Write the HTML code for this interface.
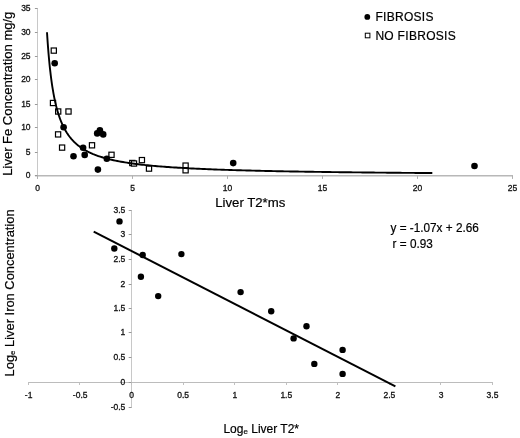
<!DOCTYPE html>
<html><head><meta charset="utf-8"><style>
html,body{margin:0;padding:0;background:#fff;}
body{width:520px;height:438px;overflow:hidden;}
svg{display:block;filter:blur(0.3px);font-family:"Liberation Sans",sans-serif;}
</style></head><body>
<svg width="520" height="438" viewBox="0 0 520 438">
<rect width="520" height="438" fill="#fff"/>
<g stroke="#999" stroke-width="1" fill="none">
<line x1="37.5" y1="8" x2="37.5" y2="179" stroke="#c8c8c8"/>
<line x1="35" y1="175.8" x2="513" y2="175.8" stroke="#b8b8b8" stroke-width="1.5"/>
<line x1="34.9" y1="8.5" x2="37.5" y2="8.5"/>
<line x1="34.9" y1="32.5" x2="37.5" y2="32.5"/>
<line x1="34.9" y1="56.5" x2="37.5" y2="56.5"/>
<line x1="34.9" y1="79.5" x2="37.5" y2="79.5"/>
<line x1="34.9" y1="104.5" x2="37.5" y2="104.5"/>
<line x1="34.9" y1="127.5" x2="37.5" y2="127.5"/>
<line x1="34.9" y1="152.5" x2="37.5" y2="152.5"/>
<line x1="34.9" y1="175.5" x2="37.5" y2="175.5"/>
<line x1="37.5" y1="175.72" x2="37.5" y2="178.92" stroke="#b0b0b0"/>
<line x1="132.5" y1="175.72" x2="132.5" y2="178.92" stroke="#b0b0b0"/>
<line x1="227.5" y1="175.72" x2="227.5" y2="178.92" stroke="#b0b0b0"/>
<line x1="322.5" y1="175.72" x2="322.5" y2="178.92" stroke="#b0b0b0"/>
<line x1="417.5" y1="175.72" x2="417.5" y2="178.92" stroke="#b0b0b0"/>
<line x1="512.5" y1="175.72" x2="512.5" y2="178.92" stroke="#b0b0b0"/>
</g>
<g font-size="8.5" fill="#111" stroke="#111" stroke-width="0.3">
<text x="30.6" y="10.9" text-anchor="end">35</text>
<text x="30.6" y="34.9" text-anchor="end">30</text>
<text x="30.6" y="58.9" text-anchor="end">25</text>
<text x="30.6" y="81.9" text-anchor="end">20</text>
<text x="30.6" y="106.9" text-anchor="end">15</text>
<text x="30.6" y="129.9" text-anchor="end">10</text>
<text x="30.6" y="154.9" text-anchor="end">5</text>
<text x="30.6" y="177.9" text-anchor="end">0</text>
<text x="37.6" y="190.5" text-anchor="middle">0</text>
<text x="132.6" y="190.5" text-anchor="middle">5</text>
<text x="227.6" y="190.5" text-anchor="middle">10</text>
<text x="322.6" y="190.5" text-anchor="middle">15</text>
<text x="417.6" y="190.5" text-anchor="middle">20</text>
<text x="512.6" y="190.5" text-anchor="middle">25</text>
</g>
<rect x="51.2" y="48.0" width="5.2" height="5.2" fill="#fff" stroke="#000" stroke-width="1.2"/>
<rect x="50.4" y="100.4" width="5.2" height="5.2" fill="#fff" stroke="#000" stroke-width="1.2"/>
<rect x="55.6" y="108.9" width="5.2" height="5.2" fill="#fff" stroke="#000" stroke-width="1.2"/>
<rect x="65.9" y="108.9" width="5.2" height="5.2" fill="#fff" stroke="#000" stroke-width="1.2"/>
<rect x="55.5" y="131.8" width="5.2" height="5.2" fill="#fff" stroke="#000" stroke-width="1.2"/>
<rect x="59.5" y="145.0" width="5.2" height="5.2" fill="#fff" stroke="#000" stroke-width="1.2"/>
<rect x="89.4" y="142.7" width="5.2" height="5.2" fill="#fff" stroke="#000" stroke-width="1.2"/>
<rect x="108.9" y="152.2" width="5.2" height="5.2" fill="#fff" stroke="#000" stroke-width="1.2"/>
<rect x="129.7" y="160.4" width="5.2" height="5.2" fill="#fff" stroke="#000" stroke-width="1.2"/>
<rect x="131.4" y="160.9" width="5.2" height="5.2" fill="#fff" stroke="#000" stroke-width="1.2"/>
<rect x="139.3" y="157.5" width="5.2" height="5.2" fill="#fff" stroke="#000" stroke-width="1.2"/>
<rect x="146.4" y="166.0" width="5.2" height="5.2" fill="#fff" stroke="#000" stroke-width="1.2"/>
<rect x="183.0" y="163.0" width="5.2" height="5.2" fill="#fff" stroke="#000" stroke-width="1.2"/>
<rect x="183.0" y="167.7" width="5.2" height="5.2" fill="#fff" stroke="#000" stroke-width="1.2"/>
<circle cx="54.7" cy="63.2" r="3.3" fill="#000"/>
<circle cx="63.6" cy="127.2" r="3.3" fill="#000"/>
<circle cx="73.5" cy="156.3" r="3.3" fill="#000"/>
<circle cx="83.1" cy="147.7" r="3.3" fill="#000"/>
<circle cx="84.7" cy="154.9" r="3.3" fill="#000"/>
<circle cx="99.9" cy="130.3" r="3.3" fill="#000"/>
<circle cx="97.2" cy="133.4" r="3.3" fill="#000"/>
<circle cx="103.2" cy="134.4" r="3.3" fill="#000"/>
<circle cx="97.9" cy="169.6" r="3.3" fill="#000"/>
<circle cx="106.8" cy="158.8" r="3.3" fill="#000"/>
<circle cx="233.2" cy="163.1" r="3.3" fill="#000"/>
<circle cx="474.5" cy="166" r="3.3" fill="#000"/>
<path d="M47.00,32.25 L47.38,38.14 L47.76,43.59 L48.14,48.63 L48.52,53.31 L48.90,57.67 L49.28,61.74 L49.66,65.55 L50.04,69.12 L50.42,72.47 L50.80,75.62 L51.18,78.60 L51.56,81.40 L51.94,84.06 L52.32,86.57 L52.70,88.95 L53.08,91.21 L53.46,93.36 L53.84,95.41 L54.22,97.36 L54.60,99.22 L54.98,101.00 L55.36,102.70 L55.74,104.33 L56.12,105.89 L56.50,107.38 L56.88,108.81 L57.26,110.19 L57.64,111.51 L58.02,112.78 L58.40,114.01 L58.78,115.18 L59.16,116.32 L59.54,117.42 L59.92,118.47 L60.30,119.49 L60.68,120.48 L61.06,121.43 L61.44,122.35 L61.82,123.24 L62.20,124.11 L62.58,124.94 L62.96,125.75 L63.34,126.54 L63.72,127.30 L64.10,128.04 L64.48,128.76 L64.86,129.46 L65.24,130.14 L65.62,130.79 L66.00,131.44 L66.38,132.06 L66.76,132.66 L67.14,133.26 L67.52,133.83 L67.90,134.39 L68.28,134.94 L68.66,135.47 L69.04,135.99 L69.42,136.49 L69.80,136.99 L70.18,137.47 L70.56,137.94 L70.94,138.40 L71.32,138.85 L71.70,139.28 L72.08,139.71 L72.46,140.13 L72.84,140.54 L73.22,140.94 L73.60,141.33 L73.98,141.72 L74.36,142.09 L74.74,142.46 L75.12,142.82 L75.50,143.17 L75.88,143.51 L76.26,143.85 L76.64,144.18 L77.02,144.51 L77.40,144.82 L77.78,145.14 L78.16,145.44 L78.54,145.74 L78.92,146.04 L79.30,146.32 L79.68,146.61 L80.06,146.89 L80.44,147.16 L80.82,147.43 L81.20,147.69 L81.58,147.95 L81.96,148.20 L82.34,148.45 L82.72,148.70 L83.10,148.94 L83.48,149.17 L83.86,149.41 L84.24,149.64 L84.62,149.86 L85.00,150.08 L85.38,150.30 L85.76,150.51 L86.14,150.72 L86.52,150.93 L86.90,151.14 L87.28,151.34 L87.66,151.53 L88.04,151.73 L88.42,151.92 L88.80,152.11 L89.18,152.29 L89.56,152.48 L89.94,152.66 L90.32,152.84 L90.70,153.01 L91.08,153.18 L91.46,153.35 L91.84,153.52 L92.22,153.68 L92.60,153.85 L92.98,154.01 L93.36,154.17 L93.74,154.32 L94.12,154.47 L94.50,154.63 L96.40,155.35 L98.30,156.03 L100.20,156.67 L102.10,157.27 L104.00,157.83 L105.90,158.36 L107.80,158.87 L109.70,159.34 L111.60,159.79 L113.50,160.22 L115.40,160.62 L117.30,161.00 L119.20,161.37 L121.10,161.72 L123.00,162.05 L124.90,162.37 L126.80,162.67 L128.70,162.96 L130.60,163.24 L132.50,163.51 L134.40,163.76 L136.30,164.01 L138.20,164.25 L140.10,164.47 L142.00,164.69 L143.90,164.90 L145.80,165.11 L147.70,165.30 L149.60,165.49 L151.50,165.67 L153.40,165.85 L155.30,166.02 L157.20,166.18 L159.10,166.34 L161.00,166.50 L162.90,166.65 L164.80,166.79 L166.70,166.93 L168.60,167.07 L170.50,167.20 L172.40,167.33 L174.30,167.45 L176.20,167.57 L178.10,167.69 L180.00,167.81 L181.90,167.92 L183.80,168.03 L185.70,168.13 L187.60,168.23 L189.50,168.33 L191.40,168.43 L193.30,168.53 L195.20,168.62 L197.10,168.71 L199.00,168.80 L200.90,168.88 L202.80,168.97 L204.70,169.05 L206.60,169.13 L208.50,169.21 L210.40,169.29 L212.30,169.36 L214.20,169.43 L216.10,169.51 L218.00,169.58 L219.90,169.64 L221.80,169.71 L223.70,169.78 L225.60,169.84 L227.50,169.90 L229.40,169.96 L231.30,170.03 L233.20,170.08 L235.10,170.14 L237.00,170.20 L238.90,170.25 L240.80,170.31 L242.70,170.36 L244.60,170.42 L246.50,170.47 L248.40,170.52 L250.30,170.57 L252.20,170.62 L254.10,170.66 L256.00,170.71 L257.90,170.76 L259.80,170.80 L261.70,170.85 L263.60,170.89 L265.50,170.93 L267.40,170.98 L269.30,171.02 L271.20,171.06 L273.10,171.10 L275.00,171.14 L276.90,171.18 L278.80,171.22 L280.70,171.25 L282.60,171.29 L284.50,171.33 L286.40,171.36 L288.30,171.40 L290.20,171.43 L292.10,171.47 L294.00,171.50 L295.90,171.53 L297.80,171.57 L299.70,171.60 L301.60,171.63 L303.50,171.66 L305.40,171.69 L307.30,171.72 L309.20,171.75 L311.10,171.78 L313.00,171.81 L314.90,171.84 L316.80,171.87 L318.70,171.90 L320.60,171.92 L322.50,171.95 L324.40,171.98 L326.30,172.00 L328.20,172.03 L330.10,172.06 L332.00,172.08 L333.90,172.11 L335.80,172.13 L337.70,172.15 L339.60,172.18 L341.50,172.20 L343.40,172.23 L345.30,172.25 L347.20,172.27 L349.10,172.29 L351.00,172.32 L352.90,172.34 L354.80,172.36 L356.70,172.38 L358.60,172.40 L360.50,172.42 L362.40,172.44 L364.30,172.46 L366.20,172.48 L368.10,172.50 L370.00,172.52 L371.90,172.54 L373.80,172.56 L375.70,172.58 L377.60,172.60 L379.50,172.62 L381.40,172.64 L383.30,172.66 L385.20,172.67 L387.10,172.69 L389.00,172.71 L390.90,172.73 L392.80,172.74 L394.70,172.76 L396.60,172.78 L398.50,172.79 L400.40,172.81 L402.30,172.83 L404.20,172.84 L406.10,172.86 L408.00,172.87 L409.90,172.89 L411.80,172.90 L413.70,172.92 L415.60,172.93 L417.50,172.95 L419.40,172.96 L421.30,172.98 L423.20,172.99 L425.10,173.01 L427.00,173.02 L428.90,173.04 L430.80,173.05 L432.32,173.06" stroke="#000" stroke-width="1.9" fill="none"/>
<circle cx="367.3" cy="16.9" r="2.9" fill="#000"/>
<rect x="365.3" y="33.2" width="4.6" height="4.6" fill="#fff" stroke="#000" stroke-width="1"/>
<g font-size="12" fill="#000" stroke="#000" stroke-width="0.2" letter-spacing="0.3">
<text x="375.4" y="20.8">FIBROSIS</text>
<text x="375.4" y="39.6">NO FIBROSIS</text>
</g>
<g font-size="13" fill="#000" stroke="#000" stroke-width="0.2">
<text x="215.2" y="206.5" font-size="13.2">Liver T2*ms</text>
<text transform="translate(11.9,175.7) rotate(-90)" x="0" y="0">Liver Fe Concentration mg/g</text>
</g>
<g stroke="#999" stroke-width="1" fill="none">
<line x1="131.5" y1="210" x2="131.5" y2="408" stroke="#c8c8c8"/>
<line x1="28" y1="382.5" x2="493" y2="382.5" stroke="#bcbcbc" stroke-width="1.2"/>
<line x1="128.7" y1="210.5" x2="131.5" y2="210.5"/>
<line x1="128.7" y1="234.5" x2="131.5" y2="234.5"/>
<line x1="128.7" y1="259.5" x2="131.5" y2="259.5"/>
<line x1="128.7" y1="284.5" x2="131.5" y2="284.5"/>
<line x1="128.7" y1="308.5" x2="131.5" y2="308.5"/>
<line x1="128.7" y1="332.5" x2="131.5" y2="332.5"/>
<line x1="128.7" y1="357.5" x2="131.5" y2="357.5"/>
<line x1="128.7" y1="382.5" x2="131.5" y2="382.5"/>
<line x1="128.7" y1="407.5" x2="131.5" y2="407.5"/>
<line x1="28.5" y1="382.5" x2="28.5" y2="385" stroke="#c0c0c0"/>
<line x1="79.5" y1="382.5" x2="79.5" y2="385" stroke="#c0c0c0"/>
<line x1="131.5" y1="382.5" x2="131.5" y2="385" stroke="#c0c0c0"/>
<line x1="183.5" y1="382.5" x2="183.5" y2="385" stroke="#c0c0c0"/>
<line x1="234.5" y1="382.5" x2="234.5" y2="385" stroke="#c0c0c0"/>
<line x1="286.5" y1="382.5" x2="286.5" y2="385" stroke="#c0c0c0"/>
<line x1="337.5" y1="382.5" x2="337.5" y2="385" stroke="#c0c0c0"/>
<line x1="389.5" y1="382.5" x2="389.5" y2="385" stroke="#c0c0c0"/>
<line x1="440.5" y1="382.5" x2="440.5" y2="385" stroke="#c0c0c0"/>
<line x1="492.5" y1="382.5" x2="492.5" y2="385" stroke="#c0c0c0"/>
</g>
<g font-size="8.5" fill="#111" stroke="#111" stroke-width="0.3">
<text x="125.3" y="212.8" text-anchor="end">3.5</text>
<text x="125.3" y="236.8" text-anchor="end">3</text>
<text x="125.3" y="261.8" text-anchor="end">2.5</text>
<text x="125.3" y="286.8" text-anchor="end">2</text>
<text x="125.3" y="310.8" text-anchor="end">1.5</text>
<text x="125.3" y="334.8" text-anchor="end">1</text>
<text x="125.3" y="359.8" text-anchor="end">0.5</text>
<text x="125.3" y="384.8" text-anchor="end">0</text>
<text x="125.3" y="409.8" text-anchor="end">-0.5</text>
<text x="28.6" y="397.9" text-anchor="middle">-1</text>
<text x="80.2" y="397.9" text-anchor="middle">-0.5</text>
<text x="131.7" y="397.9" text-anchor="middle">0</text>
<text x="183.2" y="397.9" text-anchor="middle">0.5</text>
<text x="234.8" y="397.9" text-anchor="middle">1</text>
<text x="286.3" y="397.9" text-anchor="middle">1.5</text>
<text x="337.9" y="397.9" text-anchor="middle">2</text>
<text x="389.4" y="397.9" text-anchor="middle">2.5</text>
<text x="441.0" y="397.9" text-anchor="middle">3</text>
<text x="492.5" y="397.9" text-anchor="middle">3.5</text>
</g>
<line x1="93.7" y1="231.6" x2="395.4" y2="386.3" stroke="#000" stroke-width="2.0"/>
<circle cx="119.5" cy="221.4" r="3.2" fill="#000"/>
<circle cx="114.3" cy="248.5" r="3.2" fill="#000"/>
<circle cx="142.7" cy="255.0" r="3.2" fill="#000"/>
<circle cx="140.9" cy="276.8" r="3.2" fill="#000"/>
<circle cx="181.4" cy="254.1" r="3.2" fill="#000"/>
<circle cx="158.2" cy="296.1" r="3.2" fill="#000"/>
<circle cx="240.6" cy="292.1" r="3.2" fill="#000"/>
<circle cx="271.2" cy="311.2" r="3.2" fill="#000"/>
<circle cx="306.5" cy="326.2" r="3.2" fill="#000"/>
<circle cx="293.6" cy="338.4" r="3.2" fill="#000"/>
<circle cx="342.6" cy="349.9" r="3.2" fill="#000"/>
<circle cx="314.3" cy="363.9" r="3.2" fill="#000"/>
<circle cx="342.6" cy="373.9" r="3.2" fill="#000"/>
<g font-size="12.4" fill="#000" stroke="#000" stroke-width="0.2">
<text transform="translate(390.5,231.6) scale(0.95,1)">y = -1.07x + 2.66</text>
<text transform="translate(392.6,247.7) scale(0.95,1)">r = 0.93</text>
</g>
<g font-size="12.9" fill="#000" stroke="#000" stroke-width="0.2">
<text transform="translate(14.2,376.4) rotate(-90)">Log<tspan font-size="7.8" dy="0.3">e</tspan><tspan dy="-0.3"> Liver Iron Concentration</tspan></text>
</g>
<g font-size="12" fill="#000" stroke="#000" stroke-width="0.2">
<text x="223.4" y="432.7">Log<tspan font-size="8" dy="1.5">e</tspan><tspan dy="-1.5"> Liver T2*</tspan></text>
</g>
</svg>
</body></html>
